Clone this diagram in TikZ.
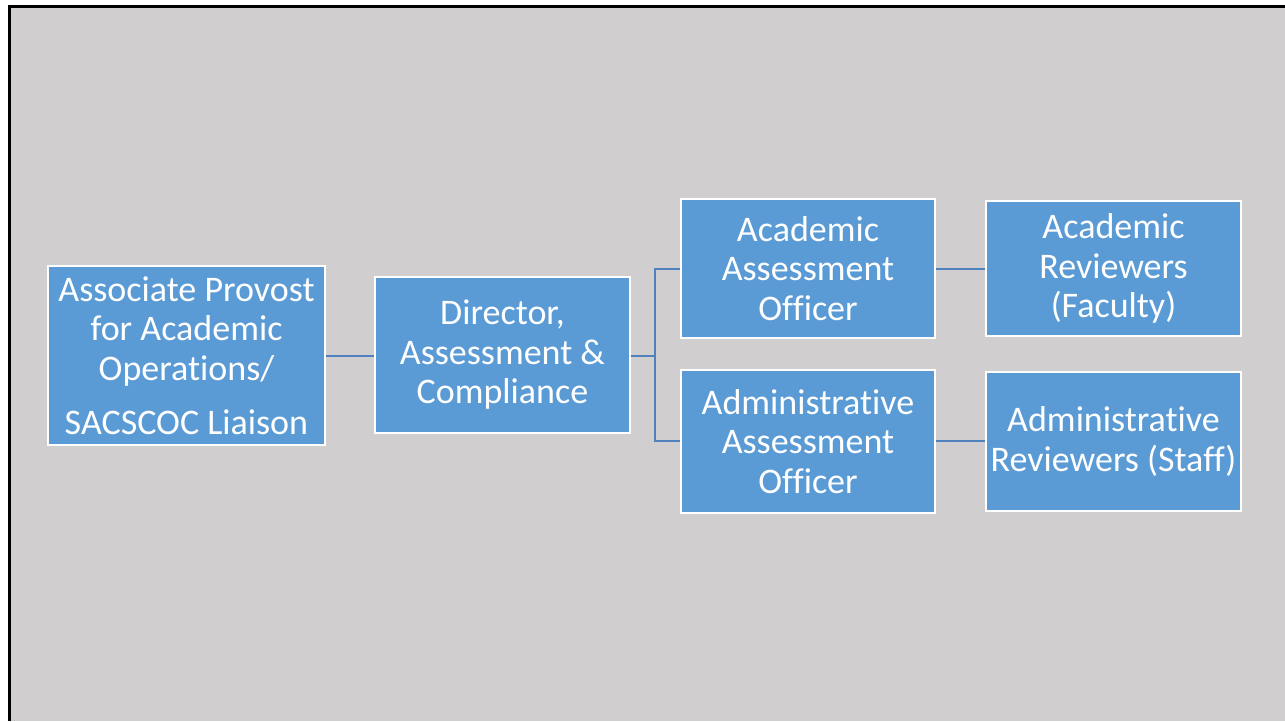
\documentclass[tikz,border=0pt]{standalone}
\usepackage{fontspec}
\setmainfont[Ligatures=NoCommon]{Carlito}
\definecolor{bg}{HTML}{D0CECE}
\definecolor{boxfill}{HTML}{5B9BD5}
\definecolor{conn}{HTML}{4F81BD}
\begin{document}
\begin{tikzpicture}[x=1pt,y=-1pt,
  orgbox/.style={rectangle, fill=boxfill, draw=white, line width=1.5pt, text=white, align=center, inner sep=0pt, font=\fontsize{36}{39.5}\selectfont},
  link/.style={draw=conn, line width=1.8pt}]
\useasboundingbox (0,0) rectangle (1285,721);
\fill[white] (0,0) rectangle (1285,721);
\fill[bg] (9,6) rectangle (1285,721);
\draw[black, line width=3pt] (8,6) -- (1285,6);
\draw[black, line width=3pt] (9,6) -- (9,721);

\node[orgbox, minimum width=277, minimum height=179] (ap) at (186.5,355.5) {Associate Provost\\for Academic\\Operations/\\[15pt]SACSCOC Liaison};
\node[orgbox, minimum width=255, minimum height=156] (dir) at (502.5,355) {Director,\\Assessment \&\\Compliance};
\node[orgbox, minimum width=254, minimum height=139] (aao) at (808,268.5) {Academic\\Assessment\\Officer};
\node[orgbox, minimum width=254, minimum height=143] (dao) at (808,441.5) {Administrative\\Assessment\\Officer};
\node[orgbox, minimum width=255, minimum height=135] (ar) at (1113.5,268.5) {Academic\\Reviewers\\(Faculty)};
\node[orgbox, minimum width=255, minimum height=139] (dr) at (1113.5,441.5) {Administrative\\Reviewers (Staff)};

\coordinate (j) at (655,356);
\draw[link] (ap.east |- 0,356) -- (dir.west |- 0,356);
\draw[link] (dir.east |- 0,356) -- (j);
\draw[link] (aao.west |- 0,269) -| (j) |- (dao.west |- 0,441);
\draw[link] (aao.east |- 0,269) -- (ar.west |- 0,269);
\draw[link] (dao.east |- 0,441) -- (dr.west |- 0,441);
\end{tikzpicture}
\end{document}
